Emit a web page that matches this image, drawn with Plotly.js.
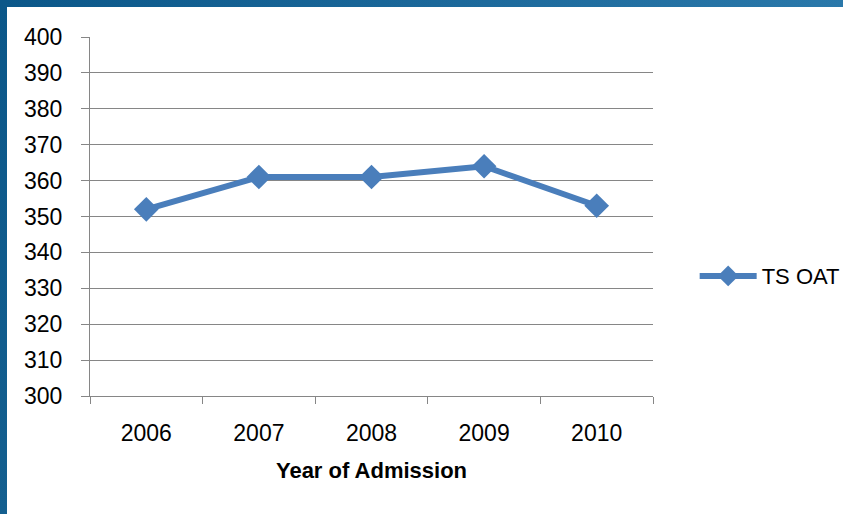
<!DOCTYPE html>
<html>
<head>
<meta charset="utf-8">
<script src="https://cdn.plot.ly/plotly-3.0.1.min.js"></script>
<style>
html,body{margin:0;padding:0;background:#fff;}
#wrap{position:relative;width:843px;height:514px;overflow:hidden;}
#chart{position:absolute;left:0;top:0;width:843px;height:514px;}
#topbar{position:absolute;left:0;top:0;width:843px;height:7px;background:linear-gradient(to right,#0b5789,#2a78aa);}
#leftbar{position:absolute;left:0;top:0;width:7px;height:514px;background:linear-gradient(to bottom,#0b5789,#145f8f);}
</style>
</head>
<body>
<div id="wrap">
<div id="chart"></div>
<div id="topbar"></div>
<div id="leftbar"></div>
</div>
<script>
const years = ["2006", "2007", "2008", "2009", "2010"];
const tsOat = [352, 361, 361, 364, 353];
const seriesName = "TS OAT";
const xTitle = "Year of Admission";

const font = "Liberation Sans, Arial, sans-serif";
const trace = {
  x: years, y: tsOat, name: seriesName, type: "scatter", mode: "lines+markers",
  line: {color: "#4a7ebb", width: 6},
  marker: {symbol: "diamond", size: 19, color: "#4a7ebb"},
  showlegend: true
};
const layout = {
  width: 843, height: 514,
  margin: {l: 90, r: 190, t: 37, b: 118, autoexpand: false},
  paper_bgcolor: "#fff", plot_bgcolor: "#fff",
  font: {family: font, size: 23, color: "#000"},
  showlegend: true,
  legend: {x: 1.074, y: 0.334, xanchor: "left", yanchor: "middle", itemwidth: 57,
           font: {family: font, size: 22, color: "#000"}, bgcolor: "rgba(0,0,0,0)"},
  xaxis: {
    type: "category", range: [-0.5, years.length - 0.5],
    tickson: "boundaries", ticks: "outside", ticklen: 7, tickcolor: "#868686",
    showline: true, linecolor: "#868686", linewidth: 1, showgrid: false,
    tickfont: {family: font, size: 23}, ticklabelstandoff: 16,
    title: {text: "<b>" + xTitle + "</b>", font: {family: font, size: 22}, standoff: 18},
    fixedrange: true
  },
  yaxis: {
    range: [300, 400], dtick: 10, ticks: "outside", ticklen: 8, tickcolor: "#868686",
    showline: true, linecolor: "#868686", showgrid: true, gridcolor: "#868686", gridwidth: 1,
    zeroline: false, tickfont: {family: font, size: 23}, ticklabelstandoff: 14,
    fixedrange: true
  }
};
Plotly.newPlot("chart", [trace], layout, {displayModeBar: false, staticPlot: true});
</script>
</body>
</html>
